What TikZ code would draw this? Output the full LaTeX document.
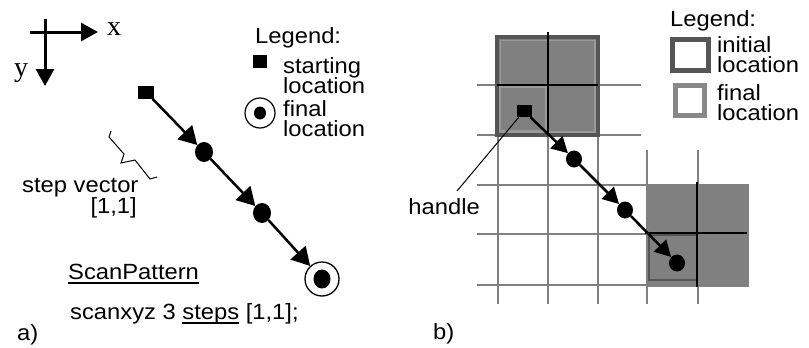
\documentclass[tikz,border=0pt]{standalone}
\usepackage{fontspec}
\setmainfont{Liberation Sans}[FakeStretch=1.08]
\newfontfamily\serifx{Liberation Serif}
\usetikzlibrary{arrows.meta,shapes.geometric}
\definecolor{gfill}{HTML}{808080}
\definecolor{gdark}{HTML}{555555}
\definecolor{glightA}{HTML}{9A9A9A}
\definecolor{glightL}{HTML}{888888}
\newcommand{\myul}[1]{\setbox0\hbox{#1}\rlap{\rule[-5pt]{\wd0}{1.6pt}}\box0\relax}
\begin{document}
\begin{tikzpicture}[x=1pt,y=-1pt,
  txt/.style={anchor=base west, inner sep=0, font=\fontsize{22}{20}\selectfont},
  txte/.style={anchor=base east, inner sep=0, font=\fontsize{22}{20}\selectfont},
  axlbl/.style={anchor=base west, inner sep=0, font=\serifx\fontsize{28}{28}\selectfont},
  sqbox/.style={rectangle, fill=black, inner sep=0},
  dotA/.style={ellipse, fill=black, minimum width=18pt, minimum height=20pt, inner sep=0},
  dotB/.style={ellipse, fill=black, minimum width=16pt, minimum height=17pt, inner sep=0},
  arrA/.style={line width=2.5pt, -{Triangle[length=18pt,width=20pt]}},
  arrB/.style={line width=2.5pt, -{Triangle[length=16pt,width=17pt]}},
  axarr/.style={line width=3pt, -{Triangle[length=17pt,width=18pt]}},
  gridl/.style={draw=gfill, line width=2pt},
  cross/.style={draw=black, line width=2pt}]
\useasboundingbox[fill=white] (0,0) rectangle (809,348);

% ---------- a) ----------
\coordinate (xo) at (30,32);
\coordinate (xe) at (98,32);
\coordinate (yo) at (45,19);
\coordinate (ye) at (45,86);
\draw[axarr] (xo) -- (xe);
\draw[axarr] (yo) -- (ye);
\node[axlbl] (lx) at (107,35) {x};
\node[axlbl] (ly) at (14,76) {y};

\node[sqbox, minimum width=16pt, minimum height=13pt] (as) at (146,92) {};
\node[dotA] (a1) at (204,152) {};
\node[dotA] (a2) at (262,213) {};
\node[draw, circle, line width=1.3pt, minimum size=34pt, inner sep=0] (af) at (322,279) {};
\node[dotA, minimum width=17pt, minimum height=19pt] (afd) at (322,279) {};
\draw[arrA] (as) -- (a1);
\draw[arrA] (a1) -- (a2);
\draw[arrA] (a2) -- (af);

\draw[line width=1pt] (111,131) -- (109,137) -- (124,154) -- (121,163) -- (135,160) -- (150,179) -- (157,177);
\node[txt] (sv) at (22,192) {step vector};
\node[txte] (sv2) at (137,213) {[1,1]};

\node[txt] (lgA) at (255,43) {Legend:};
\node[sqbox, minimum width=14pt, minimum height=13pt] (lgsq) at (260,61.5) {};
\node[txt] (lgs1) at (283,73) {starting};
\node[txt] (lgs2) at (283,93) {location};
\node[draw, circle, line width=1.2pt, minimum size=30pt, inner sep=0] (lgc) at (260,113) {};
\node[ellipse, fill=black, minimum width=12pt, minimum height=13pt, inner sep=0] (lgcd) at (260,113) {};
\node[txt] (lgf1) at (283,116) {final};
\node[txt] (lgf2) at (283,136) {location};

\node[txt] (sp) at (68,279) {\myul{ScanPattern}};
\node[txt] (sc) at (70,319) {scanxyz 3 \myul{steps} [1,1];};
\node[txt] (la) at (17,340) {a)};

% ---------- b) ----------
\foreach \y in {85,135} \draw[gridl] (477,\y) -- (641,\y);
\foreach \y in {185,234,285} \draw[gridl] (477,\y) -- (647,\y);
\foreach \x in {498,548,598} \draw[gridl] (\x,135) -- (\x,304);
\foreach \x in {647,698} \draw[gridl] (\x,150) -- (\x,304);

% initial block
\fill[gfill] (495,35) rectangle (600,137);
\draw[gdark, line width=4pt] (497,37) rectangle (598,135);
\draw[glightA, line width=1.2pt] (500.5,40.5) rectangle (595,132);
\draw[glightA, line width=2pt] (500,87) rectangle (546,131);
\draw[cross] (548,32) -- (548,135);
\draw[cross] (497,85) -- (598,85);

% final block
\fill[gfill] (646,184) rectangle (749,287);
\draw[gdark, line width=2pt] (649,235) rectangle (697,280);
\draw[cross] (697,182) -- (697,287);
\draw[cross] (645,233) -- (747,233);

\node[sqbox, minimum width=15pt, minimum height=12pt] (hs) at (524,111) {};
\node[dotB] (b1) at (574,159) {};
\node[dotB] (b2) at (625,210) {};
\node[dotB] (b3) at (677,263) {};
\draw[arrB] (hs) -- (b1);
\draw[arrB] (b1) -- (b2);
\draw[arrB] (b2) -- (b3);

\coordinate (hc) at (457,191);
\draw[line width=1pt] (hc) -- (hs);
\node[txte] (hl) at (480,214) {handle};

\node[txt] (lgB) at (670,27) {Legend:};
\node[draw=gdark, line width=5pt, minimum width=36pt, minimum height=31pt, inner sep=0] (lgi) at (690.5,55) {};
\node[draw=glightL, line width=5pt, minimum width=29pt, minimum height=30pt, inner sep=0] (lgl) at (690,100.5) {};
\node[txt] (lgi1) at (717,52) {initial};
\node[txt] (lgi2) at (717,72) {location};
\node[txt] (lgl1) at (717,100) {final};
\node[txt] (lgl2) at (717,120) {location};

\node[txt] (lb) at (433,339) {b)};
\end{tikzpicture}
\end{document}
